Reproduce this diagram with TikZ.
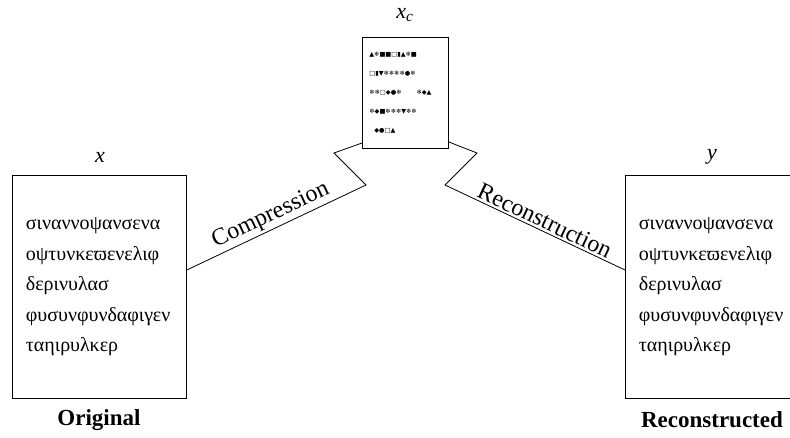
\documentclass[tikz,border=0pt]{standalone}
\usepackage{fontspec}
\newfontfamily\lser{Liberation Serif}
\newfontfamily\dvsymbols{DejaVu Sans}
\begin{document}
\begin{tikzpicture}[x=1pt,y=-1pt,
  box/.style={draw, line width=0.8pt, minimum width=174pt, minimum height=223pt,
    inner xsep=13.5pt, text width=147pt, align=left, anchor=north west,
    font=\lser\fontsize{20}{30.5}\selectfont},
  cbox/.style={draw, line width=0.8pt, minimum width=86pt, minimum height=111pt,
    inner xsep=7pt, text width=72pt, align=left, anchor=north west,
    font=\dvsymbols\fontsize{6.3}{19}\selectfont},
  lbl/.style={font=\lser\fontsize{22}{26}\selectfont\itshape},
  captext/.style={font=\lser\fontsize{23}{26}\selectfont\bfseries},
  wire/.style={line width=0.8pt},
  edgelbl/.style={font=\lser\fontsize{24}{28}\selectfont, sloped, above, inner sep=2pt}]
\useasboundingbox (0,0) rectangle (790,438);

\node[box] (L) at (12,175) {σιναννοψανσενα\\οψτυνκεϖενελιφ\\δερινυλασ\\φυσυνφυνδαφιγεν\\ταηιρυλκερ};
\node[box] (R) at (625,175) {σιναννοψανσενα\\οψτυνκεϖενελιφ\\δερινυλασ\\φυσυνφυνδαφιγεν\\ταηιρυλκερ};
\node[cbox] (C) at (362,37) {▲❄■■□▮▲❄■\\□▮▼❄❄❄❄●❄\\❄❄□◆●❄\hspace{15pt}❄◆▲\\❄◆■❄❄❄▼❄❄\\\hspace{5pt}◆●□▲};

\node[lbl] (xl) at (100,157) {x};
\node[lbl] (yl) at (712,157) {y};
\node[lbl] (xcl) at (405,15) {x\textsubscript{\textit{c}}};
\node[captext] (ol) at (99,420) {Original};
\node[captext] (rl) at (712,420) {Reconstructed};

\coordinate (a1) at (366,185);
\coordinate (a2) at (334,153);
\coordinate (b1) at (477,153);
\coordinate (b2) at (445,185);

\draw[wire] (L.east |- 0,270) -- node[edgelbl, pos=0.5] {Compression} (a1) -- (a2) -- (C.west |- 0,143);
\draw[wire] (C.east |- 0,142) -- (b1) -- (b2) -- node[edgelbl, pos=0.53] {Reconstruction} (R.west |- 0,270);
\end{tikzpicture}
\end{document}
